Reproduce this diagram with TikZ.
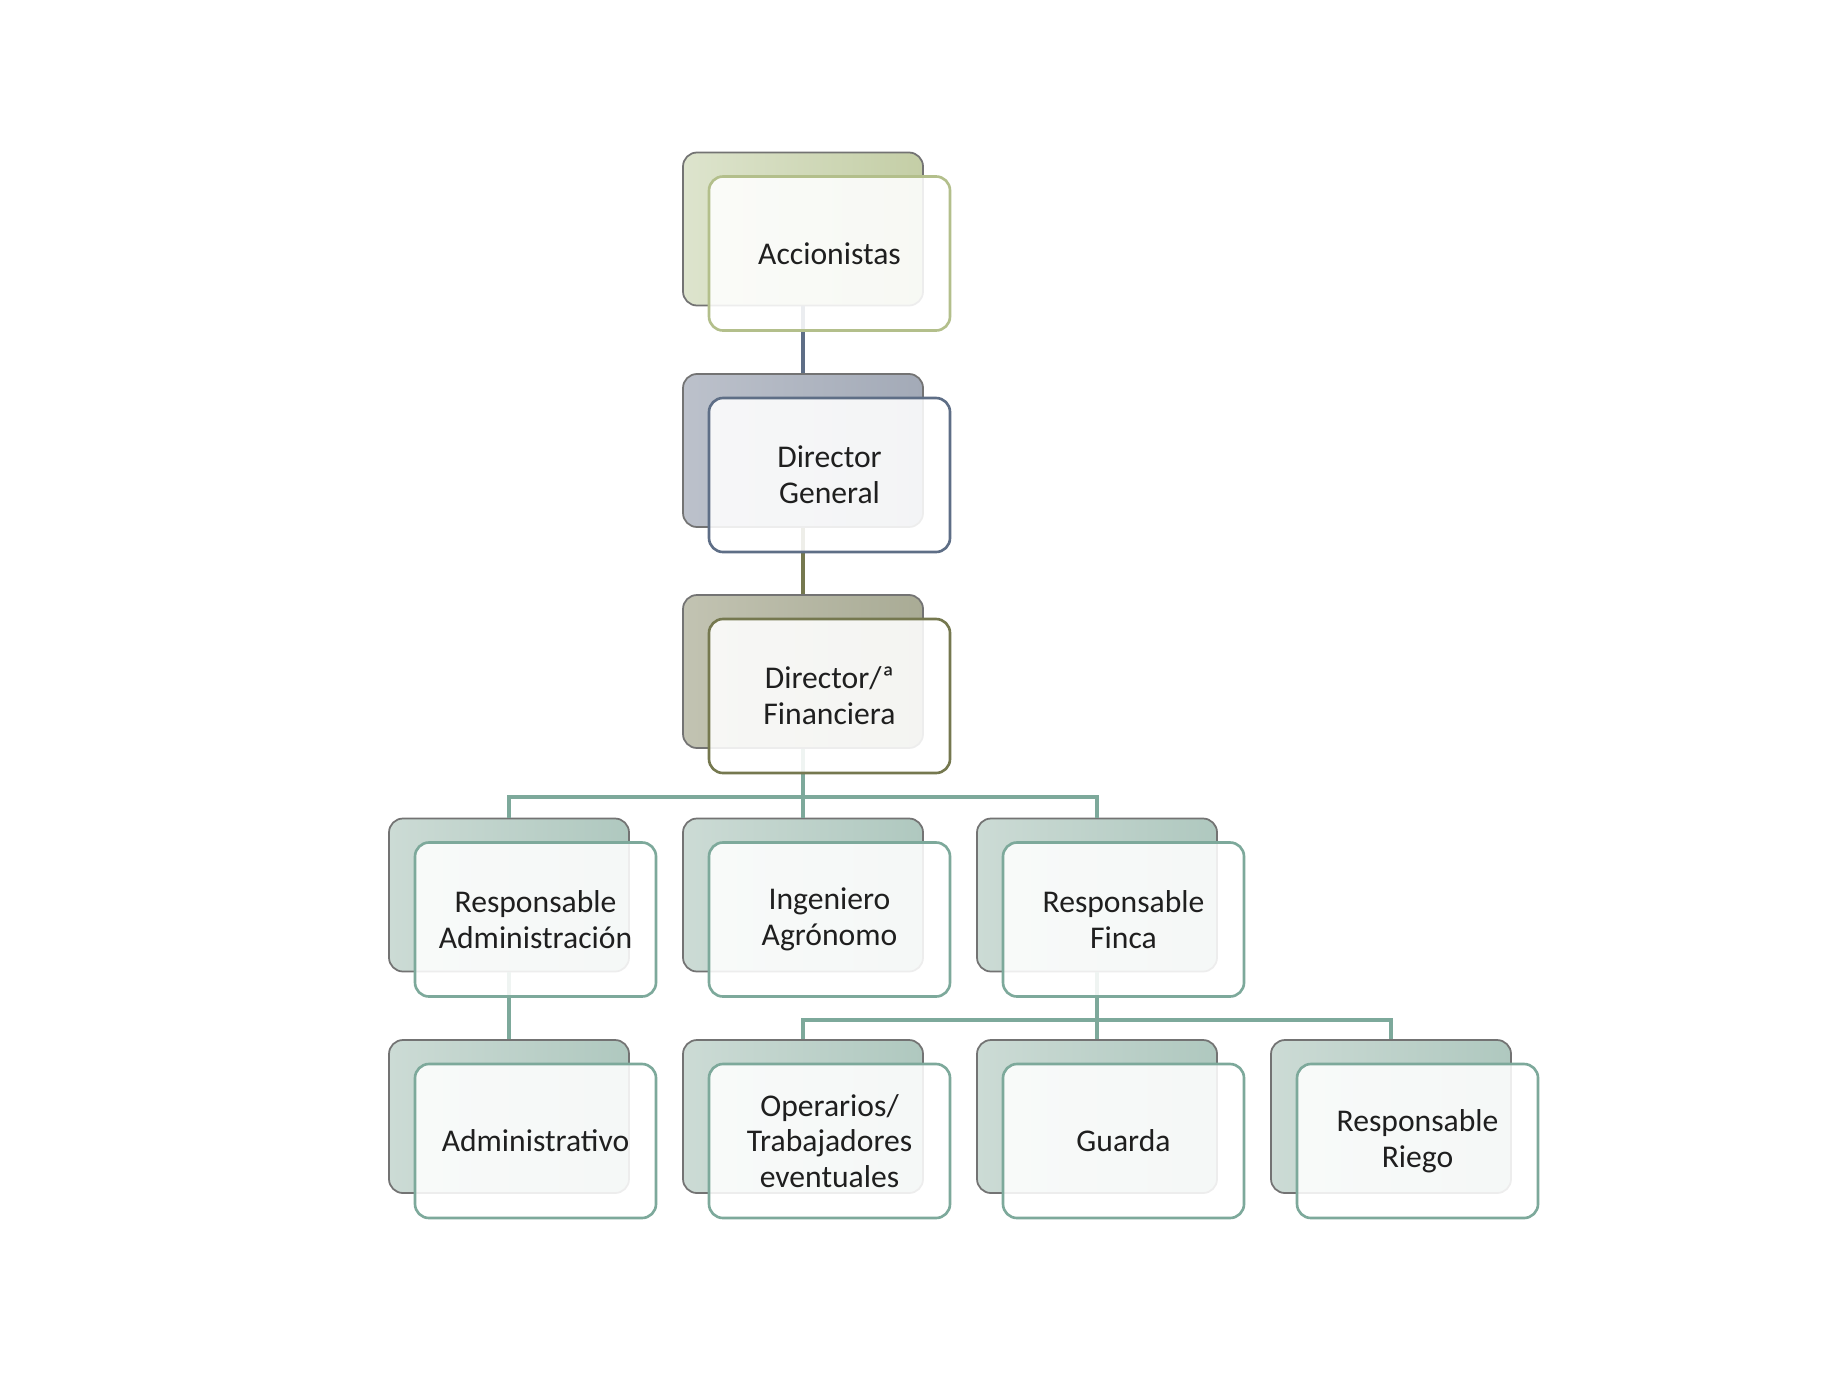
\documentclass[tikz,border=0pt]{standalone}
\usepackage{fontspec}
\setmainfont{Carlito}
\definecolor{accL}{HTML}{DDE4CD}
\definecolor{accR}{HTML}{C4CEA6}
\definecolor{accD}{HTML}{B3BF8B}
\definecolor{dgL}{HTML}{BCC1CB}
\definecolor{dgR}{HTML}{A3AAB7}
\definecolor{dgD}{HTML}{5E6E86}
\definecolor{dfL}{HTML}{C2C3B2}
\definecolor{dfR}{HTML}{A9AB95}
\definecolor{dfD}{HTML}{75784F}
\definecolor{tlL}{HTML}{CCDBD5}
\definecolor{tlR}{HTML}{AFC8BF}
\definecolor{tlD}{HTML}{7DA99B}
\begin{document}
\begin{tikzpicture}[
  backbox/.style={draw=black!55, line width=0.5pt, rounded corners=1.4mm,
    minimum width=2.4cm, minimum height=1.53cm, inner sep=0pt},
  frontbox/.style={line width=0.75pt, rounded corners=1.4mm, fill=white,
    fill opacity=0.88, text opacity=1, minimum width=2.41cm,
    minimum height=1.54cm, inner sep=0pt, align=center, text=black!88,
    font=\fontsize{9}{10.2}\selectfont},
  link/.style={line width=1.1pt}
]
  \fill[white] (0,0) rectangle (18.4,-13.8);
  \useasboundingbox (0,0) rectangle (18.4,-13.8);
  % Back cards
  \node[backbox, left color=accL, right color=accR] (accB) at (8.03,-2.29) {};
  \node[backbox, left color=dgL, right color=dgR] (dgB) at (8.03,-4.505) {};
  \node[backbox, left color=dfL, right color=dfR] (dfB) at (8.03,-6.715) {};
  % Third level
  \node[backbox, left color=tlL, right color=tlR] (raB) at (5.09,-8.95) {};
  \node[backbox, left color=tlL, right color=tlR] (iaB) at (8.03,-8.95) {};
  \node[backbox, left color=tlL, right color=tlR] (rfB) at (10.97,-8.95) {};
  % Fourth level
  \node[backbox, left color=tlL, right color=tlR] (admB) at (5.09,-11.165) {};
  \node[backbox, left color=tlL, right color=tlR] (opB) at (8.03,-11.165) {};
  \node[backbox, left color=tlL, right color=tlR] (guB) at (10.97,-11.165) {};
  \node[backbox, left color=tlL, right color=tlR] (rrB) at (13.91,-11.165) {};
  % Connectors
  \coordinate (bus1) at (8.03,-7.97);
  \coordinate (bus2) at (10.97,-10.2);
  \draw[link, dgD] (accB.south) -- (dgB.north);
  \draw[link, dfD] (dgB.south) -- (dfB.north);
  \draw[link, tlD] (dfB.south) -- (bus1);
  \draw[link, tlD] (raB.north) |- (bus1) -| (rfB.north);
  \draw[link, tlD] (bus1) -- (iaB.north);
  \draw[link, tlD] (raB.south) -- (admB.north);
  \draw[link, tlD] (rfB.south) -- (bus2);
  \draw[link, tlD] (opB.north) |- (bus2) -| (rrB.north);
  \draw[link, tlD] (bus2) -- (guB.north);
  % Front cards with the texts
  \node[frontbox, draw=accD] (acc) at (8.295,-2.535) {Accionistas};
  \node[frontbox, draw=dgD] (dg) at (8.295,-4.75) {Director\\General};
  \node[frontbox, draw=dfD] (df) at (8.295,-6.96) {Director/ª\\Financiera};
  \node[frontbox, draw=tlD] (ra) at (5.355,-9.195) {Responsable\\Administración};
  \node[frontbox, draw=tlD] (ia) at (8.295,-9.195) {Ingeniero\\Agrónomo};
  \node[frontbox, draw=tlD] (rf) at (11.235,-9.195) {Responsable\\Finca};
  \node[frontbox, draw=tlD] (adm) at (5.355,-11.41) {Administrativo};
  \node[frontbox, draw=tlD] (op) at (8.295,-11.41) {Operarios/\\Trabajadores\\eventuales};
  \node[frontbox, draw=tlD] (gu) at (11.235,-11.41) {Guarda};
  \node[frontbox, draw=tlD] (rr) at (14.175,-11.41) {Responsable\\Riego};
\end{tikzpicture}
\end{document}
